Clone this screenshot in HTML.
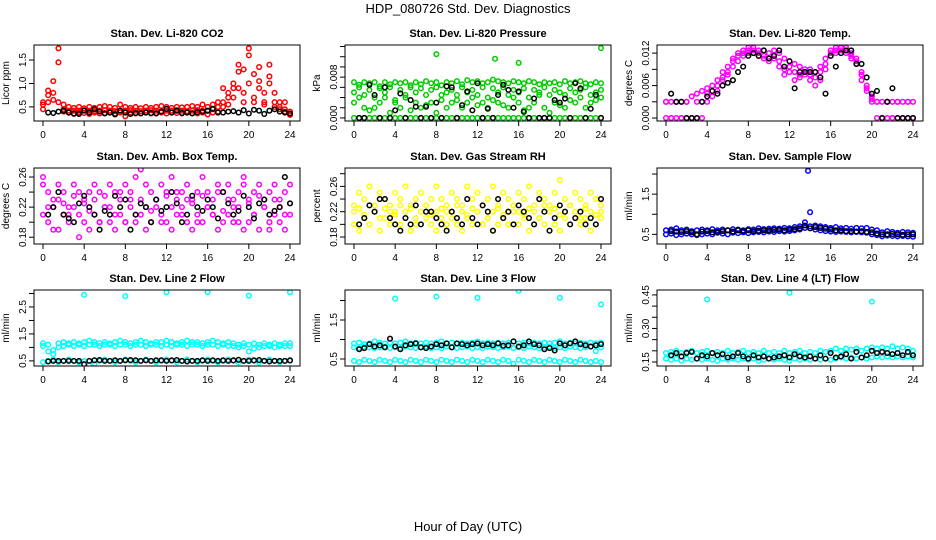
<!DOCTYPE html>
<html><head><meta charset="utf-8"><style>
body{margin:0;background:#fff}
svg{display:block;font-family:"Liberation Sans",sans-serif}
</style></head><body>
<svg id="c" width="936" height="540">
<text x="468" y="13" text-anchor="middle" font-size="13">HDP_080726  Std. Dev. Diagnostics</text>
<text x="468" y="531" text-anchor="middle" font-size="13">Hour of Day (UTC)</text>
</svg>
<script>
const T = [0,0.5,1,1.5,2,2.5,3,3.5,4,4.5,5,5.5,6,6.5,7,7.5,8,8.5,9,9.5,10,10.5,11,11.5,12,12.5,13,13.5,14,14.5,15,15.5,16,16.5,17,17.5,18,18.5,19,19.5,20,20.5,21,21.5,22,22.5,23,23.5,24];
const TB = [0.5,1,1.5,2,2.5,3,3.5,4,4.5,5,5.5,6,6.5,7,7.5,8,8.5,9,9.5,10,10.5,11,11.5,12,12.5,13,13.5,14,14.5,15,15.5,16,16.5,17,17.5,18,18.5,19,19.5,20,20.5,21,21.5,22,22.5,23,23.5,24];
const xTicks = [0,4,8,12,16,20,24];

const co2A = [0.55,0.85,0.8,1.75,0.55,0.5,0.48,0.5,0.47,0.5,0.48,0.5,0.52,0.5,0.48,0.55,0.5,0.48,0.5,0.47,0.5,0.48,0.5,0.52,0.5,0.48,0.5,0.49,0.5,0.52,0.5,0.55,0.5,0.55,0.6,0.9,0.8,1.0,1.25,1.3,1.75,1.2,1.05,0.8,1.4,0.8,0.6,0.6,0.35];
const co2B = [0.45,0.75,1.05,1.45,0.4,0.38,0.35,0.38,0.37,0.35,0.38,0.36,0.37,0.38,0.36,0.38,0.3,0.38,0.36,0.37,0.38,0.36,0.37,0.38,0.36,0.38,0.37,0.36,0.38,0.37,0.36,0.38,0.34,0.38,0.4,0.5,0.7,0.9,1.4,0.8,1.6,0.6,1.35,0.6,1.15,0.5,0.45,0.4,0.33];
const co2C = [0.6,0.6,0.65,0.6,0.45,0.42,0.42,0.42,0.43,0.42,0.41,0.42,0.43,0.42,0.41,0.42,0.42,0.43,0.42,0.41,0.42,0.43,0.42,0.41,0.42,0.42,0.43,0.42,0.41,0.42,0.43,0.42,0.42,0.45,0.5,0.6,0.55,0.7,0.9,0.6,1.0,0.7,0.9,0.55,1.0,0.6,0.5,0.45,0.4];
const co2K = [0.38,0.37,0.4,0.42,0.38,0.36,0.35,0.42,0.38,0.45,0.4,0.36,0.38,0.34,0.42,0.38,0.35,0.37,0.36,0.38,0.37,0.36,0.4,0.46,0.38,0.42,0.37,0.38,0.36,0.39,0.4,0.42,0.46,0.38,0.38,0.4,0.41,0.38,0.43,0.36,0.44,0.42,0.35,0.42,0.45,0.4,0.38,0.36];

const prA = [0.007,0.0065,0.007,0.0068,0.007,0.0062,0.007,0.0066,0.007,0.0068,0.007,0.0064,0.007,0.0066,0.0072,0.0068,0.007,0.0064,0.007,0.0068,0.0072,0.0066,0.0074,0.007,0.0072,0.0068,0.007,0.0075,0.0072,0.007,0.0068,0.0072,0.007,0.0068,0.0072,0.007,0.0066,0.007,0.0068,0.007,0.0066,0.0072,0.0068,0.007,0.0072,0.0068,0.0066,0.007,0.0068];
const prB = [0.005,0.006,0.0045,0.0055,0.004,0.0058,0.005,0.006,0.0035,0.0055,0.0045,0.006,0.005,0.0058,0.0045,0.0055,0.006,0.0035,0.005,0.0055,0.0045,0.006,0.005,0.0055,0.0045,0.006,0.004,0.0058,0.005,0.006,0.0045,0.0055,0.005,0.0058,0.004,0.0055,0.005,0.006,0.0045,0.0055,0.005,0.0045,0.0058,0.005,0.0055,0.006,0.0045,0.005,0.0055];
const prC = [0,0,0,0,0,0,0,0,0,0,0,0,0,0,0,0,0,0,0,0,0,0,0,0,0,0,0,0,0,0,0,0,0,0,0,0,0,0,0,0,0,0,0,0,0,0,0,0,0];
const prD = [0.003,0.004,0.002,0.0015,0.002,0.003,0.004,0.001,0.003,0.002,0.004,0.0015,0.003,0.002,0.0025,0.003,0.001,0.0045,0.002,0.003,0.0035,0.002,0.003,0.004,0.0025,0.003,0.002,0.0035,0.003,0.0025,0.002,0.004,0.003,0.0015,0.002,0.003,0.0045,0.002,0.001,0.003,0.0025,0.002,0.0035,0.003,0.004,0.002,0.003,0.0035,0.004];
const prOutT = [8,13.7,16,24];
const prOutV = [0.0125,0.0116,0.0108,0.0137];
const prK = [0,0,0.0065,0.0045,0,0.006,0,0.0015,0.0048,0,0.0035,0.0022,0,0.0022,0,0.003,0,0.0062,0.006,0,0.0025,0.0052,0.0015,0.0068,0,0.0018,0,0.0045,0.0065,0.0055,0.002,0.0052,0.0012,0,0.0038,0,0,0,0.0035,0.003,0.0038,0,0.0068,0.0058,0,0.0018,0.0045,0];

const tmA = [0.003,0.003,0.003,0.003,0.003,0.004,0.0045,0.005,0.0055,0.006,0.007,0.0085,0.0095,0.011,0.012,0.0125,0.013,0.013,0.0125,0.0125,0.012,0.0125,0.012,0.011,0.0105,0.01,0.0095,0.009,0.009,0.0085,0.0095,0.011,0.0125,0.013,0.013,0.013,0.012,0.011,0.0085,0.006,0.004,0.003,0.003,0.003,0.003,0.003,0.003,0.003,0.003];
const tmB = [0,0,0,0,0,0,0,0,0.003,0.004,0.005,0.007,0.008,0.0095,0.0105,0.0115,0.012,0.012,0.0115,0.011,0.0105,0.011,0.0095,0.008,0.0085,0.007,0.0075,0.008,0.007,0.006,0.007,0.009,0.0115,0.012,0.0125,0.012,0.011,0.01,0.007,0.005,0.003,0,0,0,0,0,0,0,0];
const tmC = [0.003,0,0.003,0,0.003,0,0.003,0.003,0.0045,0.005,0.006,0.0075,0.0085,0.0105,0.0115,0.012,0.0125,0.0125,0.012,0.0115,0.011,0.0115,0.0105,0.009,0.0095,0.0085,0.008,0.0085,0.008,0.0075,0.0085,0.01,0.012,0.0125,0.013,0.0125,0.0115,0.0105,0.008,0.0055,0.0035,0.003,0,0.003,0,0.003,0,0.003,0];
const tmK = [0.0045,0.003,0.003,0,0,0,0.003,0.004,0.005,0.0045,0.006,0.0065,0.007,0.0085,0.0095,0.0115,0.012,0.0115,0.0125,0.011,0.0115,0.0125,0.0095,0.0105,0.0055,0.0085,0.0085,0.0085,0.0085,0.0075,0.0045,0.0115,0.0095,0.012,0.0125,0.0125,0.01,0.01,0.0075,0.0045,0.005,0,0.003,0.0055,0,0,0,0];

const abA = [0.25,0.24,0.23,0.25,0.24,0.22,0.25,0.24,0.23,0.24,0.25,0.24,0.22,0.25,0.24,0.23,0.25,0.24,0.26,0.23,0.25,0.24,0.23,0.25,0.24,0.26,0.23,0.24,0.25,0.23,0.24,0.26,0.24,0.23,0.25,0.24,0.25,0.23,0.24,0.25,0.23,0.24,0.25,0.23,0.24,0.25,0.23,0.24,0.25];
const abB = [0.21,0.2,0.22,0.19,0.21,0.2,0.22,0.21,0.2,0.19,0.21,0.2,0.22,0.2,0.19,0.21,0.2,0.22,0.2,0.21,0.19,0.2,0.22,0.21,0.2,0.19,0.21,0.22,0.2,0.19,0.21,0.2,0.22,0.21,0.19,0.2,0.21,0.2,0.22,0.19,0.2,0.21,0.19,0.22,0.2,0.21,0.2,0.19,0.21];
const abC = [0.26,0.22,0.19,0.23,0.225,0.21,0.235,0.18,0.225,0.215,0.23,0.2,0.235,0.22,0.21,0.24,0.2,0.23,0.21,0.27,0.22,0.215,0.23,0.2,0.235,0.22,0.24,0.21,0.23,0.225,0.2,0.235,0.22,0.21,0.24,0.215,0.23,0.22,0.2,0.26,0.225,0.21,0.235,0.22,0.19,0.23,0.22,0.21,0.225];
const abK = [0.21,0.22,0.24,0.21,0.205,0.2,0.225,0.235,0.22,0.21,0.19,0.215,0.21,0.235,0.22,0.23,0.19,0.21,0.225,0.22,0.2,0.23,0.215,0.22,0.24,0.225,0.2,0.21,0.235,0.22,0.215,0.23,0.22,0.205,0.24,0.225,0.21,0.215,0.235,0.22,0.205,0.225,0.23,0.21,0.215,0.22,0.26,0.225];

const rhA = [0.23,0.25,0.24,0.26,0.23,0.25,0.24,0.23,0.25,0.24,0.26,0.23,0.24,0.25,0.23,0.24,0.26,0.24,0.23,0.25,0.24,0.23,0.26,0.24,0.25,0.23,0.24,0.26,0.23,0.25,0.24,0.23,0.25,0.24,0.26,0.23,0.25,0.24,0.23,0.25,0.27,0.24,0.23,0.25,0.24,0.23,0.25,0.24,0.23];
const rhB = [0.2,0.19,0.21,0.2,0.22,0.19,0.21,0.2,0.22,0.2,0.21,0.19,0.2,0.22,0.21,0.2,0.19,0.21,0.2,0.22,0.2,0.19,0.21,0.2,0.22,0.2,0.21,0.19,0.2,0.21,0.2,0.22,0.2,0.21,0.19,0.2,0.21,0.2,0.22,0.2,0.19,0.21,0.2,0.22,0.2,0.21,0.19,0.2,0.21];
const rhC = [0.22,0.225,0.215,0.23,0.22,0.21,0.225,0.22,0.215,0.23,0.22,0.225,0.21,0.22,0.23,0.215,0.22,0.225,0.22,0.21,0.23,0.22,0.215,0.225,0.22,0.23,0.21,0.22,0.225,0.215,0.22,0.23,0.22,0.215,0.225,0.22,0.21,0.23,0.22,0.225,0.215,0.22,0.23,0.22,0.21,0.225,0.22,0.215,0.22];
const rhK = [0.2,0.21,0.23,0.22,0.24,0.24,0.21,0.2,0.19,0.21,0.2,0.23,0.2,0.22,0.22,0.21,0.2,0.19,0.22,0.21,0.2,0.24,0.21,0.2,0.23,0.22,0.19,0.24,0.21,0.22,0.2,0.23,0.22,0.21,0.2,0.24,0.22,0.19,0.21,0.23,0.22,0.2,0.21,0.22,0.2,0.21,0.2,0.24];

const sfA = [0.6,0.62,0.65,0.6,0.62,0.58,0.6,0.62,0.6,0.63,0.6,0.62,0.6,0.63,0.62,0.6,0.63,0.62,0.65,0.63,0.64,0.65,0.64,0.66,0.65,0.68,0.7,0.8,1.05,0.72,0.7,0.68,0.66,0.68,0.65,0.66,0.64,0.66,0.65,0.66,0.62,0.6,0.55,0.58,0.56,0.54,0.56,0.55,0.54];
const sfB = [0.5,0.52,0.48,0.5,0.52,0.5,0.48,0.5,0.52,0.5,0.54,0.52,0.5,0.54,0.53,0.55,0.53,0.55,0.56,0.55,0.57,0.56,0.58,0.57,0.58,0.6,0.62,0.66,0.7,0.62,0.6,0.58,0.57,0.56,0.57,0.56,0.55,0.56,0.55,0.54,0.5,0.48,0.45,0.47,0.46,0.45,0.46,0.45,0.44];
const sfOutT = [13.8];
const sfOutV = [2.08];
const sfK = [0.58,0.57,0.56,0.58,0.55,0.5,0.57,0.58,0.55,0.56,0.58,0.6,0.57,0.6,0.58,0.6,0.58,0.59,0.6,0.6,0.61,0.62,0.6,0.62,0.63,0.65,0.72,0.65,0.68,0.66,0.64,0.62,0.6,0.6,0.58,0.58,0.57,0.58,0.56,0.55,0.52,0.5,0.5,0.51,0.5,0.49,0.5,0.5];

const l2A = [1.15,1.1,0.9,1.15,1.2,1.15,1.2,1.15,1.2,1.25,1.2,1.15,1.2,1.15,1.2,1.25,1.2,1.15,1.2,1.25,1.2,1.15,1.2,1.2,1.25,1.2,1.15,1.2,1.25,1.2,1.2,1.15,1.2,1.25,1.2,1.15,1.2,1.15,1.1,1.15,1.1,1.15,1.1,1.15,1.1,1.15,1.1,1.15,1.15];
const l2B = [1.05,0.85,0.75,1.0,1.05,1.1,1.05,1.1,1.05,1.1,1.1,1.05,1.1,1.1,1.05,1.1,1.1,1.05,1.1,1.1,1.05,1.1,1.1,1.05,1.1,1.05,1.1,1.1,1.05,1.1,1.1,1.05,1.1,1.1,1.05,1.1,1.05,1.05,1.0,1.05,0.85,0.95,1.0,1.05,1.05,1.0,1.05,1.05,1.05];
const l2C = [0.45,0.5,0.55,0.45,0.5,0.55,0.5,0.45,0.5,0.35,0.4,0.5,0.55,0.5,0.45,0.5,0.55,0.5,0.45,0.5,0.55,0.5,0.45,0.5,0.55,0.5,0.45,0.5,0.55,0.5,0.45,0.5,0.55,0.5,0.45,0.5,0.55,0.5,0.45,0.5,0.55,0.5,0.45,0.5,0.55,0.5,0.45,0.5,0.5];
const l2OutT = [4,8,12,16,20,24];
const l2OutV = [2.95,2.9,3.05,3.05,2.92,3.05];
const l2K = [0.48,0.5,0.5,0.5,0.5,0.5,0.5,0.38,0.5,0.52,0.53,0.5,0.5,0.52,0.5,0.52,0.53,0.52,0.5,0.52,0.5,0.52,0.52,0.5,0.52,0.53,0.5,0.48,0.5,0.5,0.52,0.5,0.52,0.5,0.52,0.5,0.52,0.54,0.5,0.5,0.52,0.53,0.5,0.48,0.5,0.5,0.5,0.52];

const l3A = [0.9,0.92,0.88,0.9,0.95,0.92,0.9,0.92,0.9,0.92,0.95,0.9,0.92,0.9,0.92,0.9,0.92,0.95,0.9,0.92,0.9,0.92,0.9,0.92,0.95,0.9,0.92,0.9,0.92,0.9,0.92,0.95,0.9,0.92,0.9,0.92,0.9,0.92,0.9,0.92,0.95,0.9,0.92,0.9,0.92,0.9,0.92,0.9,0.92];
const l3B = [0.8,0.78,0.82,0.8,0.78,0.8,0.82,0.78,0.8,0.78,0.82,0.8,0.78,0.8,0.82,0.78,0.8,0.78,0.82,0.8,0.78,0.8,0.82,0.78,0.8,0.78,0.82,0.8,0.78,0.8,0.82,0.78,0.8,0.78,0.82,0.8,0.78,0.8,0.82,0.78,0.8,0.78,0.82,0.8,0.78,0.8,0.82,0.7,0.8];
const l3C = [0.45,0.42,0.48,0.45,0.42,0.48,0.45,0.42,0.48,0.45,0.42,0.48,0.45,0.42,0.48,0.45,0.42,0.48,0.45,0.42,0.48,0.45,0.42,0.48,0.45,0.42,0.48,0.45,0.42,0.48,0.45,0.38,0.48,0.45,0.42,0.48,0.45,0.42,0.48,0.45,0.42,0.48,0.45,0.42,0.48,0.45,0.42,0.45,0.42];
const l3OutT = [4,8,12,16,20,24];
const l3OutV = [2.05,2.1,2.07,2.25,2.07,1.9];
const l3K = [0.75,0.78,0.88,0.82,0.85,0.8,1.02,0.82,0.75,0.85,0.88,0.9,0.8,0.78,0.82,0.88,0.85,0.9,0.8,0.9,0.88,0.85,0.88,0.9,0.85,0.88,0.85,0.9,0.84,0.85,0.95,0.82,0.85,0.95,0.88,0.85,0.75,0.78,0.72,0.9,0.85,0.9,0.95,0.88,0.85,0.82,0.85,0.88];

const l4A = [0.19,0.195,0.2,0.19,0.195,0.2,0.19,0.195,0.2,0.19,0.195,0.19,0.2,0.19,0.195,0.2,0.19,0.195,0.19,0.2,0.19,0.195,0.19,0.2,0.19,0.195,0.2,0.19,0.195,0.19,0.2,0.195,0.2,0.21,0.2,0.21,0.205,0.21,0.2,0.21,0.215,0.21,0.215,0.21,0.22,0.21,0.215,0.21,0.2];
const l4B = [0.165,0.16,0.165,0.155,0.165,0.16,0.165,0.16,0.165,0.16,0.155,0.165,0.16,0.165,0.16,0.165,0.16,0.165,0.155,0.16,0.165,0.16,0.165,0.16,0.155,0.165,0.16,0.165,0.16,0.165,0.16,0.165,0.16,0.165,0.17,0.165,0.17,0.165,0.17,0.165,0.17,0.175,0.17,0.175,0.17,0.175,0.17,0.175,0.17];
const l4OutT = [4,12,20];
const l4OutV = [0.43,0.46,0.42];
const l4K = [0.18,0.19,0.175,0.19,0.195,0.165,0.18,0.175,0.19,0.18,0.185,0.17,0.175,0.19,0.175,0.165,0.18,0.17,0.175,0.165,0.17,0.175,0.18,0.17,0.185,0.175,0.17,0.175,0.165,0.18,0.165,0.19,0.17,0.175,0.185,0.165,0.195,0.17,0.18,0.2,0.19,0.195,0.19,0.185,0.19,0.18,0.195,0.18];

const panels = [
 {name:"co2",title:"Stan. Dev. Li-820 CO2",ylab:"Licor ppm",col:0,row:0,y0:0.2,y1:1.82,ticks:[0.5,1.0,1.5],labs:["0.5","1.0","1.5"],color:"#ff0000",series:[co2A,co2B,co2C],outT:[],outV:[],k:co2K},
 {name:"pressure",title:"Stan. Dev. Li-820 Pressure",ylab:"kPa",col:1,row:0,y0:-0.0006,y1:0.0143,ticks:[0,0.002,0.004,0.006,0.008,0.010,0.012,0.014],labs:["0.000","","","","0.008","","",""],color:"#00cc00",series:[prA,prB,prC,prD],outT:prOutT,outV:prOutV,k:prK},
 {name:"temp",title:"Stan. Dev. Li-820 Temp.",ylab:"degrees C",col:2,row:0,y0:-0.00055,y1:0.0135,ticks:[0,0.003,0.006,0.009,0.012],labs:["0.000","","0.006","","0.012"],color:"#ff00ff",series:[tmA,tmB,tmC],outT:[],outV:[],k:tmK},
 {name:"amb-box",title:"Stan. Dev. Amb. Box Temp.",ylab:"degrees C",col:0,row:1,y0:0.171,y1:0.272,ticks:[0.18,0.20,0.22,0.24,0.26],labs:["0.18","","0.22","","0.26"],color:"#ff00ff",series:[abA,abB,abC],outT:[],outV:[],k:abK},
 {name:"gas-rh",title:"Stan. Dev. Gas Stream RH",ylab:"percent",col:1,row:1,y0:0.169,y1:0.289,ticks:[0.18,0.20,0.22,0.24,0.26,0.28],labs:["0.18","","0.22","","0.26",""],color:"#ffff00",series:[rhA,rhB,rhC],outT:[],outV:[],k:rhK},
 {name:"sample-flow",title:"Stan. Dev. Sample Flow",ylab:"ml/min",col:2,row:1,y0:0.26,y1:2.15,ticks:[0.5,1.0,1.5,2.0],labs:["0.5","","1.5",""],color:"#0000ff",series:[sfA,sfB],outT:sfOutT,outV:sfOutV,k:sfK},
 {name:"line2",title:"Stan. Dev. Line 2 Flow",ylab:"ml/min",col:0,row:2,y0:0.31,y1:3.13,ticks:[0.5,1,1.5,2,2.5,3],labs:["0.5","","1.5","","2.5",""],color:"#00ffff",series:[l2A,l2B,l2C],outT:l2OutT,outV:l2OutV,k:l2K},
 {name:"line3",title:"Stan. Dev. Line 3 Flow",ylab:"ml/min",col:1,row:2,y0:0.32,y1:2.27,ticks:[0.5,1,1.5,2],labs:["0.5","","1.5",""],color:"#00ffff",series:[l3A,l3B,l3C],outT:l3OutT,outV:l3OutV,k:l3K},
 {name:"line4",title:"Stan. Dev. Line 4 (LT) Flow",ylab:"ml/min",col:2,row:2,y0:0.132,y1:0.472,ticks:[0.15,0.2,0.25,0.3,0.35,0.4,0.45],labs:["0.15","","","0.30","","","0.45"],color:"#00ffff",series:[l4A,l4B],outT:l4OutT,outV:l4OutV,k:l4K}
];
const colX = [34,345,657], rowY = [45,168,290], W = 266, H = 76;
const svg = document.getElementById('c');
const NS = "http://www.w3.org/2000/svg";
function mk(tag, attrs, parent){const e=document.createElementNS(NS,tag);for(const k in attrs)e.setAttribute(k,attrs[k]);(parent||svg).appendChild(e);return e;}
panels.forEach(p=>{
  const L=colX[p.col], Tp=rowY[p.row];
  const g = mk('g',{});
  
  
  const xs = t => L+9+t/24*247;
  const ys = v => Tp+H-(v-p.y0)/(p.y1-p.y0)*H;
  const tt = mk('text',{x:L+W/2,y:Tp-8,'text-anchor':'middle','font-size':11,'font-weight':'bold'},g);
  tt.textContent=p.title;
  
  
  const yl = mk('text',{x:0,y:0,'text-anchor':'middle','font-size':10,transform:`translate(${L-25},${Tp+H/2}) rotate(-90)`},g);
  yl.textContent=p.ylab;
  
  
  const cl = mk('clipPath',{id:'cl'+p.name},g);
  mk('rect',{x:L,y:Tp,width:W,height:H},cl);
  const pts = mk('g',{'clip-path':`url(#cl${p.name})`},g);
  p.series.forEach(s=>{s.forEach((v,i)=>{
    const c=mk('circle',{cx:xs(T[i]),cy:ys(v),r:2.3,fill:'none',stroke:p.color,'stroke-width':1.5},pts);
    
    
  });});
  p.outV.forEach((v,i)=>{
    const c=mk('circle',{cx:xs(p.outT[i]),cy:ys(v),r:2.3,fill:'none',stroke:p.color,'stroke-width':1.5},pts);
    
    
  });
  p.k.forEach((v,i)=>{
    const c=mk('circle',{cx:xs(TB[i]),cy:ys(v),r:2.3,fill:'none',stroke:'#000','stroke-width':1.5},pts);
    
    
  });
  mk('rect',{x:L,y:Tp,width:W,height:H,fill:'none',stroke:'#000','stroke-width':1},g);
  xTicks.forEach(t=>{
    mk('line',{x1:xs(t),x2:xs(t),y1:Tp+H,y2:Tp+H+5,stroke:'#000'},g);
    const tx=mk('text',{x:xs(t),y:Tp+H+17,'text-anchor':'middle','font-size':10},g);
    tx.textContent=t;
    
    
  });
  p.ticks.forEach((v,i)=>{
    const y=ys(v);
    mk('line',{x1:L-5,x2:L,y1:y,y2:y,stroke:'#000'},g);
    if(p.labs[i]){
      const tx=mk('text',{x:0,y:0,'text-anchor':'middle','font-size':10,transform:`translate(${L-8},${y}) rotate(-90)`},g);
      tx.textContent=p.labs[i];
      
      
    }
  });
});
</script>
</body></html>
